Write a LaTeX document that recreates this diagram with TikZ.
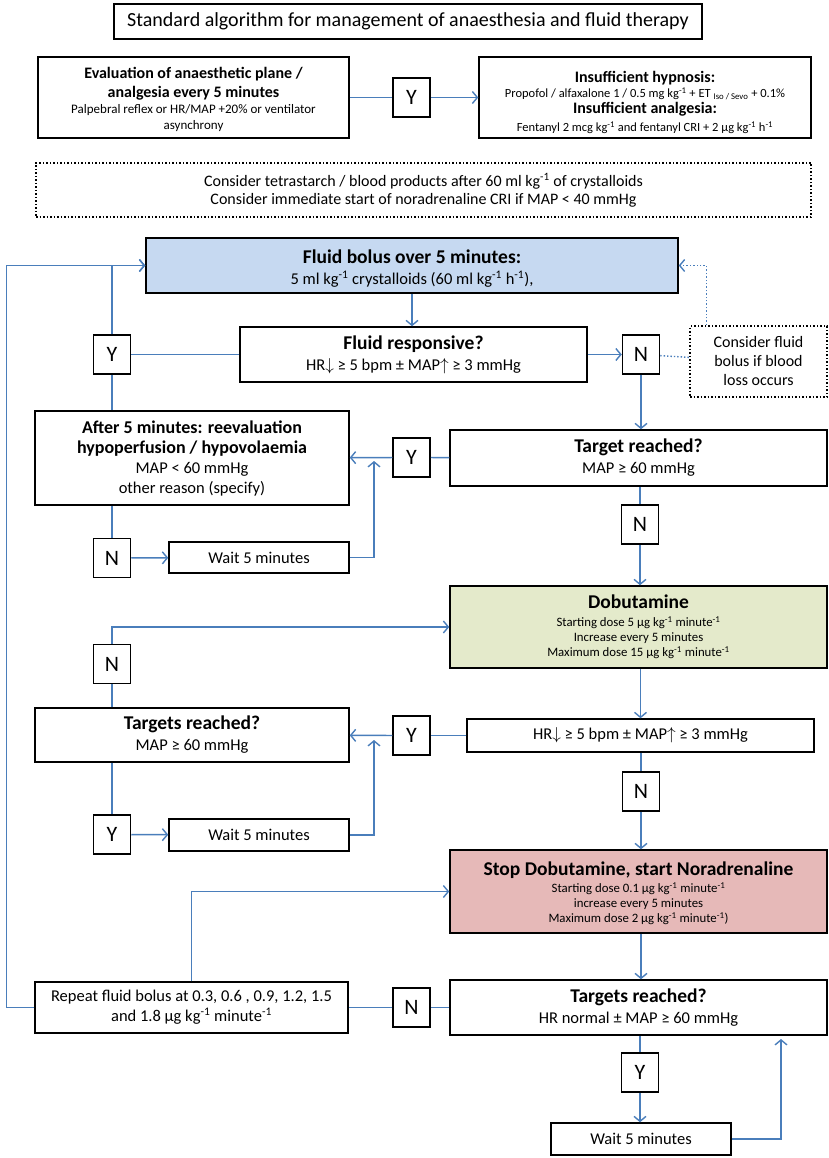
\documentclass[tikz,border=0pt]{standalone}
\usepackage{fontspec}
\setmainfont{Carlito}
\usetikzlibrary{positioning, calc, arrows.meta}

\definecolor{lineblue}{HTML}{4A7EBB}
\definecolor{bolusblue}{HTML}{C6D9F1}
\definecolor{dobugreen}{HTML}{E4EACB}
\definecolor{stoppink}{HTML}{E6B9B8}

\newcommand{\fsz}[2]{\fontsize{#1}{#2}\selectfont}
\newcommand{\hd}[2][16]{{\fsz{#1}{#1}\bfseries #2}}
\newcommand{\inv}{\textsuperscript{-1}}

\begin{document}
\begin{tikzpicture}[x=1pt, y=-1pt,
    box/.style={draw, line width=1.5pt, align=center, inner sep=0pt},
    yn/.style={draw, line width=1.5pt, minimum width=37pt, minimum height=39pt, inner sep=0pt, font=\fsz{22}{26}},
    conn/.style={draw=lineblue, line width=1.4pt},
    arr/.style={conn, -{Straight Barb[length=5pt, width=12pt]}}]

        % Page frame
        \useasboundingbox (0,0) rectangle (829,1158);

        % Draw top part
        \node[box, minimum width=588pt, minimum height=35pt, font=\fsz{20}{24}] (title) at (408,21.5)
            {Standard algorithm for management of anaesthesia and fluid therapy};
        \node[box, minimum width=311pt, minimum height=81pt, font=\fsz{13}{16}] (eval) at (193.5,97.5)
            {\rule{0pt}{16pt}\hd{Evaluation of anaesthetic plane /}\\[3pt] \hd{analgesia every 5 minutes}\\
             Palpebral reflex or HR/MAP +20\% or ventilator\\ asynchrony};
        \node[yn] (yEval) at (411.5,97.5) {Y};
        \node[box, minimum width=332pt, minimum height=81pt, font=\fsz{12.5}{15}] (insuf) at (645,97.5)
            {\rule{0pt}{22pt}\hd{Insufficient hypnosis:}\\
             Propofol / alfaxalone 1 / 0.5 mg kg\inv{} + ET~\textsubscript{Iso / Sevo} + 0.1\%\\[1pt]
             \hd{Insufficient analgesia:}\\[3pt]
             Fentanyl 2 mcg kg\inv{} and fentanyl CRI + 2 µg kg\inv{} h\inv};
        \node[box, dotted, minimum width=775pt, minimum height=54pt, font=\fsz{16}{18}] (hint) at (423.5,190)
            {Consider tetrastarch / blood products after 60 ml kg\inv{} of crystalloids\\
             Consider immediate start of noradrenaline CRI if MAP < 40 mmHg};

        % Draw fluid bolus loop
        \node[box, fill=bolusblue, minimum width=532pt, minimum height=55pt, font=\fsz{16.5}{21}] (bolus) at (412,265.5)
            {\rule{0pt}{20pt}\hd[19.5]{Fluid bolus over 5 minutes:}\\ 5 ml kg\inv{} crystalloids (60 ml kg\inv{} h\inv),};
        \node[box, minimum width=347pt, minimum height=55pt, font=\fsz{16.5}{21}] (resp) at (413.5,354.5)
            {\hd[19.5]{Fluid responsive?}\\ HR$\downarrow$ ≥ 5 bpm ± MAP$\uparrow$ ≥ 3 mmHg};
        \node[yn] (yResp) at (112,354.5) {Y};
        \node[yn] (nResp) at (641,354.5) {N};
        \node[box, dotted, minimum width=137pt, minimum height=71pt, font=\fsz{16}{19}] (bleed) at (758.5,361.5)
            {Consider fluid\\ bolus if blood\\ loss occurs};
        \node[box, minimum width=314pt, minimum height=94pt, font=\fsz{16.5}{20}] (after) at (192,458)
            {\hd[18]{After 5 minutes: reevaluation}\\ \hd[18]{hypoperfusion / hypovolaemia}\\
             MAP < 60 mmHg\\ other reason (specify)};
        \node[yn] (yTarget) at (411.5,457.5) {Y};
        \node[box, minimum width=377pt, minimum height=56pt, font=\fsz{16.5}{21}] (target) at (638.5,458)
            {\hd[19.5]{Target reached?}\\ MAP ≥ 60 mmHg};
        \node[yn] (nAfter) at (112,558) {N};
        \node[box, minimum width=180pt, minimum height=31pt, font=\fsz{16.5}{18}] (waitA) at (259,557.5) {Wait 5 minutes};
        \node[yn] (nTarget) at (640,524.5) {N};
        \coordinate (joinA) at (374,461);

        % Draw dobutamine part
        \node[box, fill=dobugreen, minimum width=377pt, minimum height=82pt, font=\fsz{12.8}{15}] (dobu) at (638.5,627)
            {\hd[19.5]{Dobutamine}\\[3pt] Starting dose 5 µg kg\inv{} minute\inv\\ Increase every 5 minutes\\
             Maximum dose 15 µg kg\inv{} minute\inv};
        \node[yn] (nDobu) at (112,664) {N};
        \node[box, minimum width=314pt, minimum height=54pt, font=\fsz{16.5}{21}] (reachedA) at (192,735)
            {\hd[19.5]{Targets reached?}\\ MAP ≥ 60 mmHg};
        \node[yn] (yHr) at (411.5,735.5) {Y};
        \node[box, minimum width=347pt, minimum height=33pt, font=\fsz{16.5}{18}] (hr) at (640.5,735.5)
            {HR$\downarrow$ ≥ 5 bpm ± MAP$\uparrow$ ≥ 3 mmHg};
        \node[yn] (nHr) at (641,791.5) {N};
        \node[yn] (yReached) at (112,834.5) {Y};
        \node[box, minimum width=180pt, minimum height=32pt, font=\fsz{16.5}{18}] (waitB) at (259,835) {Wait 5 minutes};
        \coordinate (joinB) at (374,740);

        % Draw noradrenaline part
        \node[box, fill=stoppink, minimum width=377pt, minimum height=83pt, font=\fsz{12.8}{15}] (stop) at (638.5,891.5)
            {\rule{0pt}{18pt}\hd[19.5]{Stop Dobutamine, start Noradrenaline}\\[2pt] Starting dose 0.1 µg kg\inv{} minute\inv\\
             increase every 5 minutes\\ Maximum dose 2 µg kg\inv{} minute\inv)};
        \node[box, minimum width=313pt, minimum height=51pt, font=\fsz{16.5}{20}] (repeat) at (191.5,1007.5)
            {Repeat fluid bolus at 0.3, 0.6 , 0.9, 1.2, 1.5\\ and 1.8 µg kg\inv{} minute\inv};
        \node[yn] (nRep) at (411.5,1007.5) {N};
        \node[box, minimum width=377pt, minimum height=55pt, font=\fsz{16.5}{21}] (reachedB) at (638.5,1007.5)
            {\hd[19.5]{Targets reached?}\\ HR normal ± MAP ≥ 60 mmHg};
        \node[yn] (yFinal) at (640,1072.5) {Y};
        \node[box, minimum width=180pt, minimum height=32pt, font=\fsz{16.5}{18}] (waitC) at (641,1139) {Wait 5 minutes};
        \coordinate (joinC) at (781,1039);

        % Connect top part
        \draw[conn] (eval) -- (yEval);
        \draw[arr] (yEval) -- (insuf);

        % Connect fluid bolus loop
        \draw[arr] (bolus) -- (bolus.south |- resp.north);
        \draw[conn] (resp) -- (yResp);
        \draw[arr] (yResp.north) |- (bolus.west);
        \draw[conn] (yResp.south) -- (yResp.south |- after.north);
        \draw[arr] (resp) -- (nResp);
        \draw[conn, dotted] (nResp) -- (bleed);
        \draw[arr, dotted] ([xshift=17pt]bleed.north west) |- (bolus.east);
        \draw[arr] (nResp.south) -- (nResp.south |- target.north);
        \draw[conn] (target) -- (yTarget);
        \draw[arr] (yTarget) -- (after);
        \draw[conn] (after.south -| nAfter) -- (nAfter.north);
        \draw[arr] (nAfter) -- (waitA);
        \draw[arr] (waitA.east) -| (joinA);
        \draw[conn] (target.south -| nTarget) -- (nTarget.north);
        \draw[arr] (nTarget.south) -- (nTarget.south |- dobu.north);

        % Connect dobutamine part
        \draw[conn] (reachedA.north -| nDobu) -- (nDobu.south);
        \draw[arr] (nDobu.north) |- (dobu.west);
        \draw[arr] (dobu.south -| hr) -- (hr.north);
        \draw[conn] (hr) -- (yHr);
        \draw[arr] (yHr) -- (reachedA);
        \draw[conn] (reachedA.south -| yReached) -- (yReached.north);
        \draw[arr] (yReached) -- (waitB);
        \draw[arr] (waitB.east) -| (joinB);
        \draw[conn] (hr.south -| nHr) -- (nHr.north);
        \draw[arr] (nHr.south) -- (nHr.south |- stop.north);

        % Connect noradrenaline part
        \draw[arr] (repeat.north) |- (stop.west);
        \draw[arr] (stop.south -| nHr) -- (nHr |- reachedB.north);
        \draw[conn] (reachedB) -- (nRep);
        \draw[conn] (nRep) -- (repeat);
        \draw[arr] (repeat.west) -- ++(-28,0) |- (bolus.west);
        \draw[conn] (reachedB.south -| yFinal) -- (yFinal.north);
        \draw[arr] (yFinal.south) -- (yFinal.south |- waitC.north);
        \draw[arr] (waitC.east) -| (joinC);
    \end{tikzpicture}
\end{document}
